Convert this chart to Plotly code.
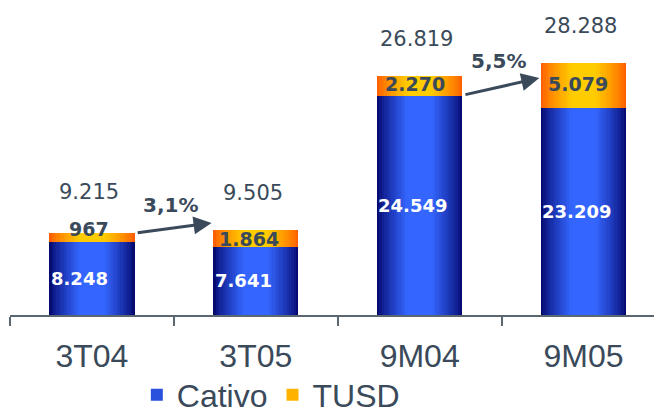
import plotly.graph_objects as go

categories = ["3T04", "3T05", "9M04", "9M05"]
cativo = [8248, 7641, 24549, 23209]
tusd = [967, 1864, 2270, 5079]
totals = [9215, 9505, 26819, 28288]
growth_labels = ["3,1%", "5,5%"]
cativo_text = ["8.248", "7.641", "24.549", "23.209"]
tusd_text = ["967", "1.864", "2.270", "5.079"]
total_text = ["9.215", "9.505", "26.819", "28.288"]

TXT = "#3a4a5a"
BAR_W = 0.52
N = 18


def hex2rgb(h):
    h = h.lstrip("#")
    return tuple(int(h[i:i + 2], 16) for i in (0, 2, 4))


def mix(c1, c2, t):
    a, b = hex2rgb(c1), hex2rgb(c2)
    return "rgb(%d,%d,%d)" % tuple(round(a[i] + (b[i] - a[i]) * t) for i in range(3))


def grad_color(edge, center, d):
    # d: normalized distance from center (1 = edge)
    if d <= 0.3:
        t = 1.0
    else:
        t = 1 - (d - 0.3) / 0.7
    t = t ** 0.8
    return mix(edge, center, t)


fig = go.Figure()

series = [
    ("Cativo", cativo, None, "#060b72", "#3466ff"),
    ("TUSD", tusd, cativo, "#ff6000", "#ffcc00"),
]
for name, vals, base, edge, center in series:
    for j in range(N):
        d = 1 - j / N
        fig.add_trace(go.Bar(
            x=categories, y=vals, base=base, width=BAR_W * d,
            marker=dict(color=grad_color(edge, center, d), line=dict(width=0)),
            name=name, legendgroup=name, showlegend=(j == N // 2),
            hoverinfo="skip",
        ))

ann = []
cativo_xshift = [-12, -12, -7, -7]
for i, c in enumerate(categories):
    ann.append(dict(x=c, y=cativo[i] / 2, text=cativo_text[i], showarrow=False,
                    xshift=cativo_xshift[i],
                    font=dict(family="DejaVu Sans", size=18, color="white", weight="bold")))
tusd_shift = [8, 0, 2, 2]
tusd_xshift = [-3, -7, -5, -6]
for i, c in enumerate(categories):
    ann.append(dict(x=c, y=cativo[i] + tusd[i] / 2, text=tusd_text[i], showarrow=False,
                    xshift=tusd_xshift[i], yshift=tusd_shift[i],
                    font=dict(family="DejaVu Sans", size=19, color=TXT, weight="bold")))
total_shift = [41, 37, 37, 37]
for i, c in enumerate(categories):
    ann.append(dict(x=c, y=totals[i], text=total_text[i], showarrow=False,
                    yshift=total_shift[i], xshift=-3,
                    font=dict(family="DejaVu Sans", size=21, color=TXT)))

# growth arrows: (from bar, to bar, start value, end value, label value)
arrow_pairs = [(0, 1, 9205, 10330, 12350), (2, 3, 24700, 26600, 28510)]
for k, (a, b, y0, y1, ylab) in enumerate(arrow_pairs):
    ann.append(dict(x=b - BAR_W / 2 - 0.01, y=y1, ax=a + BAR_W / 2 + 0.01, ay=y0,
                    xref="x", yref="y", axref="x", ayref="y",
                    showarrow=True, arrowhead=2, arrowsize=1.2, arrowwidth=3,
                    arrowcolor=TXT, text=""))
    ann.append(dict(x=(a + b) / 2 - 0.02, y=ylab, text=growth_labels[k], showarrow=False,
                    font=dict(family="DejaVu Sans", size=20, color=TXT, weight="bold")))

fig.update_layout(
    width=654, height=412,
    margin=dict(l=10, r=0, t=10, b=97, autoexpand=False),
    barmode="overlay",
    bargap=0,
    plot_bgcolor="white", paper_bgcolor="white",
    showlegend=True,
    legend=dict(orientation="h", x=0.405, xanchor="center", y=-0.262, yanchor="middle",
                font=dict(family="Liberation Sans", size=32, color=TXT),
                itemwidth=30, tracegroupgap=0, traceorder="normal", itemclick=False),
    xaxis=dict(range=[-0.5, 3.43], showline=True, linecolor="#5a6670", linewidth=1.5,
               ticks="outside", tickson="boundaries", ticklen=9, tickcolor="#5a6670", tickwidth=1.5,
               tickfont=dict(family="Liberation Sans", size=32, color=TXT),
               ticklabelstandoff=12, showgrid=False, fixedrange=True),
    yaxis=dict(range=[0, 34240], visible=False, showgrid=False, fixedrange=True),
    annotations=ann,
)

fig.write_html("out.html", config={"displayModeBar": False},
               post_script="document.body.style.margin='0';")
